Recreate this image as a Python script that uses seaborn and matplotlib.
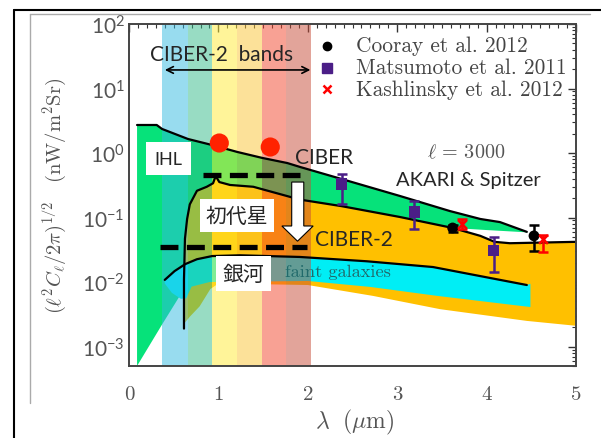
import numpy as np
import matplotlib
matplotlib.use("Agg")
import matplotlib.pyplot as plt
from matplotlib.lines import Line2D
from matplotlib.patches import Polygon
import seaborn as sns

# ---- values (lambda in um, fluctuation in nW/m^2/sr) ----
ihl_lam = [0.09, 0.31, 0.37, 0.66, 0.93, 1.21, 1.49, 1.77, 1.91, 2.38, 3.03, 3.59, 3.93, 4.15, 4.45]
ihl_val = [2.72, 2.72, 2.36, 1.65, 1.33, 1.04, 0.84, 0.70, 0.61, 0.395, 0.216, 0.126, 0.095, 0.085, 0.060]
ihl_low_lam = [0.09, 0.37, 0.63, 1.0, 2.0, 3.0, 3.62, 4.0, 4.45]
ihl_low_val = [5e-4, 2.2e-3, 8.4e-3, 0.02, 0.05, 0.09, 0.069, 0.064, 0.059]

pop3_lam = [0.615, 0.615, 0.626, 0.65, 0.68, 0.76, 0.87, 0.94, 0.97, 1.01, 1.13, 1.39,
            1.77, 1.91, 2.38, 3.03, 3.62, 3.93, 4.09, 4.26, 4.99]
pop3_val = [1.9e-3, 0.011, 0.047, 0.095, 0.16, 0.26, 0.30, 0.34, 0.44, 0.355, 0.32, 0.30,
            0.215, 0.19, 0.15, 0.102, 0.069, 0.052, 0.042, 0.040, 0.042]
pop3_low_lam = [0.62, 0.68, 0.79, 0.91, 1.0, 2.0, 2.73, 3.48, 4.45, 5.0]
pop3_low_val = [2.3e-3, 2.9e-3, 4.2e-3, 7.8e-3, 9.5e-3, 9.0e-3, 6.1e-3, 3.8e-3, 2.5e-3, 2.1e-3]

gal_lam = [0.40, 0.51, 0.63, 0.76, 0.93, 1.24, 1.91, 2.66, 3.40, 4.45]
gal_val = [0.0108, 0.0148, 0.019, 0.0226, 0.0253, 0.026, 0.0245, 0.021, 0.0171, 0.0090]
gal_edge_lam = [4.49]
gal_edge_val = [0.0094]
gal_low_lam = [0.40, 0.48, 0.58, 0.64, 0.70, 0.90, 2.0, 2.7, 3.45, 4.49]
gal_low_val = [0.0095, 0.0068, 0.0055, 0.0056, 0.0085, 0.010, 0.0104, 0.0084, 0.0061, 0.0041]

band_edges = [0.37, 0.657, 0.925, 1.21, 1.49, 1.76, 2.04]
band_colors = ["#33BBE1", "#33BB89", "#FFEB35", "#FBC535", "#F3452B", "#C74B37"]

ciber_lam = [1.01, 1.58]
ciber_val = [1.43, 1.24]

cooray_lam = [3.62, 4.53]
cooray_val = [0.069, 0.052]
cooray_lo = [0.060, 0.030]
cooray_hi = [0.077, 0.077]

matsu_lam = [2.38, 3.19, 4.08]
matsu_val = [0.33, 0.122, 0.031]
matsu_lo = [0.16, 0.066, 0.0144]
matsu_hi = [0.47, 0.18, 0.050]

kash_lam = [3.72, 4.63]
kash_val = [0.079, 0.047]
kash_lo = [0.066, 0.029]
kash_hi = [0.095, 0.054]

sens_levels = [0.456, 0.035]          # CIBER / CIBER-2 sensitivity (dashed)
sens_ranges = [(0.83, 1.91), (0.35, 1.99)]

legend_labels = ["Cooray et al. 2012", "Matsumoto et al. 2011", "Kashlinsky et al. 2012"]

GREEN = "#06E27A"
ORANGE = "#FFC000"
CYAN = "#00EEF5"
PURPLE = "#4B1E87"

sns.set_style("white")
plt.rcParams["mathtext.fontset"] = "cm"
plt.rcParams["font.family"] = ["Lato", "Noto Sans CJK JP", "DejaVu Sans"]

fig = plt.figure(figsize=(6.01, 4.39), dpi=100)
ax = fig.add_axes([129 / 601, 1 - 367 / 439, 447 / 601, 342 / 439])
ax.set_yscale("log")
ax.set_xlim(0, 5)
ax.set_ylim(5e-4, 100)


def fill_region(xt, yt, xb, yb, color, z):
    xs = list(xt) + list(xb)[::-1]
    ys = list(yt) + list(yb)[::-1]
    ax.add_patch(Polygon(np.column_stack([xs, ys]), closed=True, facecolor=color,
                         edgecolor="none", zorder=z))


fill_region(ihl_lam, ihl_val, ihl_low_lam, ihl_low_val, GREEN, 1)
fill_region(pop3_lam, pop3_val, pop3_low_lam, pop3_low_val, ORANGE, 2)
fill_region(gal_lam + gal_edge_lam, gal_val + gal_edge_val, gal_low_lam, gal_low_val, CYAN, 3)

# CIBER-2 bands
for i, c in enumerate(band_colors):
    ax.axvspan(band_edges[i], band_edges[i + 1], color=c, alpha=0.5, lw=0, zorder=4)

# model curves
for xs, ys in [(ihl_lam, ihl_val), (pop3_lam, pop3_val), (gal_lam, gal_val)]:
    sns.lineplot(x=xs, y=ys, sort=False, estimator=None, color="black", lw=1.6, ax=ax, zorder=6)

# sensitivities
for lv, (a, b) in zip(sens_levels, sens_ranges):
    ax.plot([a, b], [lv, lv], color="black", lw=3.8, ls=(0, (3.4, 1.6)), zorder=7,
            solid_capstyle="butt", dash_capstyle="butt")

# CIBER points
sns.scatterplot(x=ciber_lam, y=ciber_val, s=190, color="#FF2200", edgecolor="none", ax=ax, zorder=7)


# measurements with error bars
def err(lam, val, lo, hi, color):
    val = np.array(val)
    yerr = [val - np.array(lo), np.array(hi) - val]
    ax.errorbar(lam, val, yerr=yerr, fmt="none", ecolor=color, elinewidth=1.8,
                capsize=3.5, capthick=1.8, zorder=8)


err(matsu_lam, matsu_val, matsu_lo, matsu_hi, PURPLE)
err(cooray_lam, cooray_val, cooray_lo, cooray_hi, "black")
err(kash_lam, kash_val, kash_lo, kash_hi, "red")
sns.scatterplot(x=matsu_lam, y=matsu_val, marker="s", s=65, color=PURPLE, edgecolor="none", ax=ax, zorder=9)
sns.scatterplot(x=cooray_lam, y=cooray_val, marker="o", s=60, color="black", edgecolor="none", ax=ax, zorder=9)
sns.scatterplot(x=kash_lam, y=kash_val, marker="x", s=40, color="red", linewidth=1.8, ax=ax, zorder=9)

# white arrow CIBER -> CIBER-2
arrow = [(1.82, 0.355), (1.955, 0.355), (1.955, 0.074), (2.06, 0.074), (1.885, 0.043),
         (1.71, 0.074), (1.82, 0.074)]
ax.add_patch(Polygon(arrow, closed=True, facecolor="white", edgecolor="black", lw=0.8, zorder=8))

# band arrow and labels
ax.annotate("", xy=(0.37, 19.4), xytext=(2.06, 19.4),
            arrowprops=dict(arrowstyle="<->", color="black", lw=1.2, mutation_scale=12), zorder=9)
ax.text(1.04, 34.3, "CIBER-2  bands", ha="center", va="center", fontsize=15, zorder=9)

box = dict(facecolor="white", edgecolor="none", pad=4)
cjk = ["Noto Sans CJK JP", "DejaVu Sans"]
ax.text(0.44, 0.82, "IHL", ha="center", va="center", fontsize=13, bbox=dict(box, pad=6), zorder=10)
ax.text(2.18, 0.87, "CIBER", ha="center", va="center", fontsize=15, zorder=10)
ax.text(1.21, 0.107, "初代星", ha="center", va="center", fontsize=15, bbox=dict(box, pad=4),
        zorder=10, family=cjk)
ax.text(2.52, 0.0465, "CIBER-2", ha="center", va="center", fontsize=15, zorder=10)
ax.text(1.74, 0.0148, "faint galaxies", ha="left", va="center", fontsize=13.2, color="#216a6b",
        family="cmr10", zorder=9)
ax.text(1.28, 0.0135, "銀河", ha="center", va="center", fontsize=15, bbox=dict(box, pad=4.5),
        zorder=10, family=cjk)
ax.text(3.80, 0.395, "AKARI & Spitzer", ha="center", va="center", fontsize=14.5, zorder=10)
ax.text(3.77, 1.07, r"$\ell\,=\,3000$", ha="center", va="center", fontsize=14.5, color="#555555",
        zorder=10)

# legend (placed by hand to match the original row layout)
leg_marks = [dict(marker="o", color="black", ms=6),
             dict(marker="s", color=PURPLE, ms=7),
             dict(marker="x", color="red", ms=6, mew=1.8)]
leg_mark_y = [0.9357, 0.8713, 0.8099]
leg_base_y = [0.921, 0.8567, 0.7924]
for lab, mk, my, by in zip(legend_labels, leg_marks, leg_mark_y, leg_base_y):
    ax.plot([0.443], [my], ls="none", transform=ax.transAxes, clip_on=False, zorder=11, **mk)
    ax.text(0.5078, by, lab, transform=ax.transAxes, ha="left", va="baseline",
            family="cmr10", fontsize=15.4, color="#444444", zorder=11)

# axes styling
ax.set_xticks([0, 1, 2, 3, 4, 5])
ax.set_xticklabels(["0", "1", "2", "3", "4", "5"], family="cmr10")
ax.xaxis.set_minor_locator(matplotlib.ticker.MultipleLocator(0.1))
ax.yaxis.set_major_locator(matplotlib.ticker.LogLocator(numticks=10))
ax.yaxis.set_minor_locator(matplotlib.ticker.LogLocator(subs=np.arange(2, 10), numticks=20))
ax.yaxis.set_minor_formatter(matplotlib.ticker.NullFormatter())
ax.tick_params(which="both", direction="in", top=True, right=True, colors="#333333",
               labelcolor="#555555", labelsize=15)
ax.tick_params(which="major", length=6, width=1.0)
ax.tick_params(which="minor", length=3, width=0.8)
ax.tick_params(axis="x", pad=14)
ax.tick_params(axis="y", pad=3)
for sp in ax.spines.values():
    sp.set_color("#444444")
    sp.set_linewidth(1.4)
    sp.set_zorder(12)

ax.set_xlabel(r"$\lambda\ \ (\mu\mathrm{m})$", fontsize=17, color="#555555")
ax.xaxis.set_label_coords(0.506, -0.12)
ax.set_ylabel(r"$(\ell^2C_\ell/2\pi)^{1/2}\quad(\mathrm{nW/m^2Sr})$", fontsize=14.8, color="#555555")
ax.yaxis.set_label_coords(-0.137, 0.499)

# slide frame lines
W, H = 601, 439
fig.add_artist(Line2D([14 / W, 1], [1 - 11 / H, 1 - 11 / H], color="black", lw=1.5))
fig.add_artist(Line2D([14 / W, 14 / W], [0, 1 - 11 / H], color="black", lw=1.5))
fig.add_artist(Line2D([30 / W, 590 / W], [1 - 15 / H, 1 - 15 / H], color="#aaaaaa", lw=1.0))
fig.add_artist(Line2D([30 / W, 30 / W], [1 - 404 / H, 1 - 15 / H], color="#aaaaaa", lw=1.0))

fig.savefig("out.png", dpi=100)
